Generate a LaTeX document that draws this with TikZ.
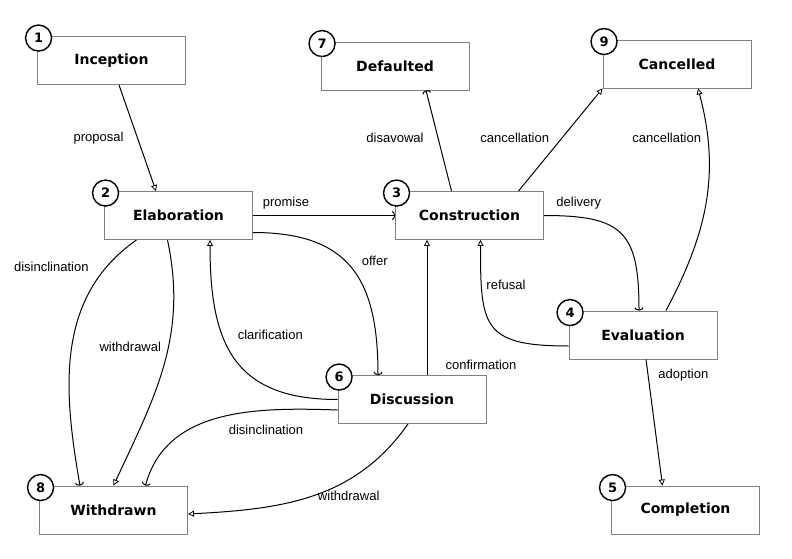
\documentclass[tikz,border=0pt]{standalone}
\usepackage{fontspec}
\setmainfont{Liberation Sans}
\newfontfamily\titlefont{DejaVu Sans}
\usetikzlibrary{arrows.meta}

\begin{document}
\begin{tikzpicture}[x=1pt, y=1pt, font=\fontsize{13}{15}\selectfont]
\tikzset{
  phase/.style={draw=black!50, line width=0.9pt, minimum width=148pt, minimum height=48pt, inner sep=0pt, font=\titlefont\bfseries\fontsize{14}{16}\selectfont},
  num/.style={circle, draw, fill=white, line width=1.4pt, minimum size=26pt, inner sep=0pt, font=\titlefont\bfseries\fontsize{13}{15}\selectfont},
  lbl/.style={inner sep=1pt},
  arrow_tri/.style={-{Triangle[open, length=6pt, width=6pt, line width=0.8pt]}, line width=1pt},
  arrow_arc/.style={-{Arc Barb[length=3pt, width=9pt, line width=1pt]}, line width=1pt},
}
\useasboundingbox (0,0) rectangle (792,558);

% Phases
\node (incep) [phase] at (111.5,497.5) {Inception};
\node (elab) [phase] at (178.5,342.5) {Elaboration};
\node (constr) [phase] at (469.5,342.5) {Construction};
\node (evalu) [phase] at (643,223) {Evaluation};
\node (compl) [phase] at (685.5,48) {Completion};
\node (discu) [phase] at (412,158.5) {Discussion};
\node (deflt) [phase] at (395,492) {Defaulted};
\node (cancl) [phase] at (677,494) {Cancelled};
\node (withd) [phase] at (113.5,48) {Withdrawn};

% Numbers
\node (n1) [num] at ([shift={(1.5,-2)}]incep.north west) {1};
\node (n2) [num] at ([shift={(1.5,-2)}]elab.north west) {2};
\node (n3) [num] at ([shift={(1.5,-2)}]constr.north west) {3};
\node (n4) [num] at ([shift={(1.5,-2)}]evalu.north west) {4};
\node (n5) [num] at ([shift={(1.5,-2)}]compl.north west) {5};
\node (n6) [num] at ([shift={(1.5,-2)}]discu.north west) {6};
\node (n7) [num] at ([shift={(1.5,-2)}]deflt.north west) {7};
\node (n8) [num] at ([shift={(1.5,-2)}]withd.north west) {8};
\node (n9) [num] at ([shift={(1.5,-2)}]cancl.north west) {9};

% Transitions
\draw[arrow_tri] ([xshift=7.5]incep.south) -- ([xshift=-22.5]elab.north);
\draw[arrow_arc] (elab.east) -- (constr.west);
\draw[arrow_arc] ([xshift=-18]constr.north) -- ([xshift=31]deflt.south);
\draw[arrow_tri] ([xshift=49]constr.north) -- (cancl.south west);
\draw[arrow_tri] ([xshift=23]evalu.north) to[out=62, in=-75] ([xshift=21]cancl.south);
\draw[arrow_arc] (constr.east) to[out=0, in=90, looseness=1.5] ([xshift=-4]evalu.north);
\draw[arrow_tri] ([yshift=-11]evalu.west) to[out=180, in=-90, looseness=1.6] ([xshift=11]constr.south);
\draw[arrow_tri] ([xshift=3]evalu.south) -- ([xshift=-23]compl.north);
\draw[arrow_tri] ([xshift=15]discu.north) -- ([xshift=-42.5]constr.south);
\draw[arrow_arc] ([yshift=-17]elab.east) to[out=0, in=90, looseness=1.3] ([xshift=-34]discu.north);
\draw[arrow_tri] (discu.west) to[out=180, in=-90, looseness=1.3] ([xshift=31.5]elab.south);
\draw[arrow_arc] ([xshift=-42]elab.south) to[out=-145, in=100] ([xshift=-33.5]withd.north);
\draw[arrow_tri] ([xshift=-11]elab.south) to[out=-78, in=65] (withd.north);
\draw[arrow_arc] ([yshift=-10.5]discu.west) to[out=178, in=75] ([xshift=32]withd.north);
\draw[arrow_tri] ([xshift=-4]discu.south) to[out=-125, in=3] ([yshift=-4]withd.east);

% Labels
\node (l_prop) [lbl] at (98.5,420) {proposal};
\node (l_prom) [lbl] at (286,355) {promise};
\node (l_disav) [lbl] at (395,420.3) {disavowal};
\node (l_canc1) [lbl] at (514.7,420.3) {cancellation};
\node (l_canc2) [lbl] at (666.7,420.3) {cancellation};
\node (l_deliv) [lbl] at (578.8,354.7) {delivery};
\node (l_refus) [lbl] at (506,273) {refusal};
\node (l_adopt) [lbl] at (683.3,183) {adoption};
\node (l_confi) [lbl] at (481,193) {confirmation};
\node (l_offer) [lbl] at (374.7,297) {offer};
\node (l_clari) [lbl] at (270.3,223) {clarification};
\node (l_disin1) [lbl] at (51.3,290.7) {disinclination};
\node (l_withd1) [lbl] at (130.3,210.7) {withdrawal};
\node (l_disin2) [lbl] at (266,128) {disinclination};
\node (l_withd2) [lbl] at (348.7,62) {withdrawal};

\end{tikzpicture}
\end{document}
